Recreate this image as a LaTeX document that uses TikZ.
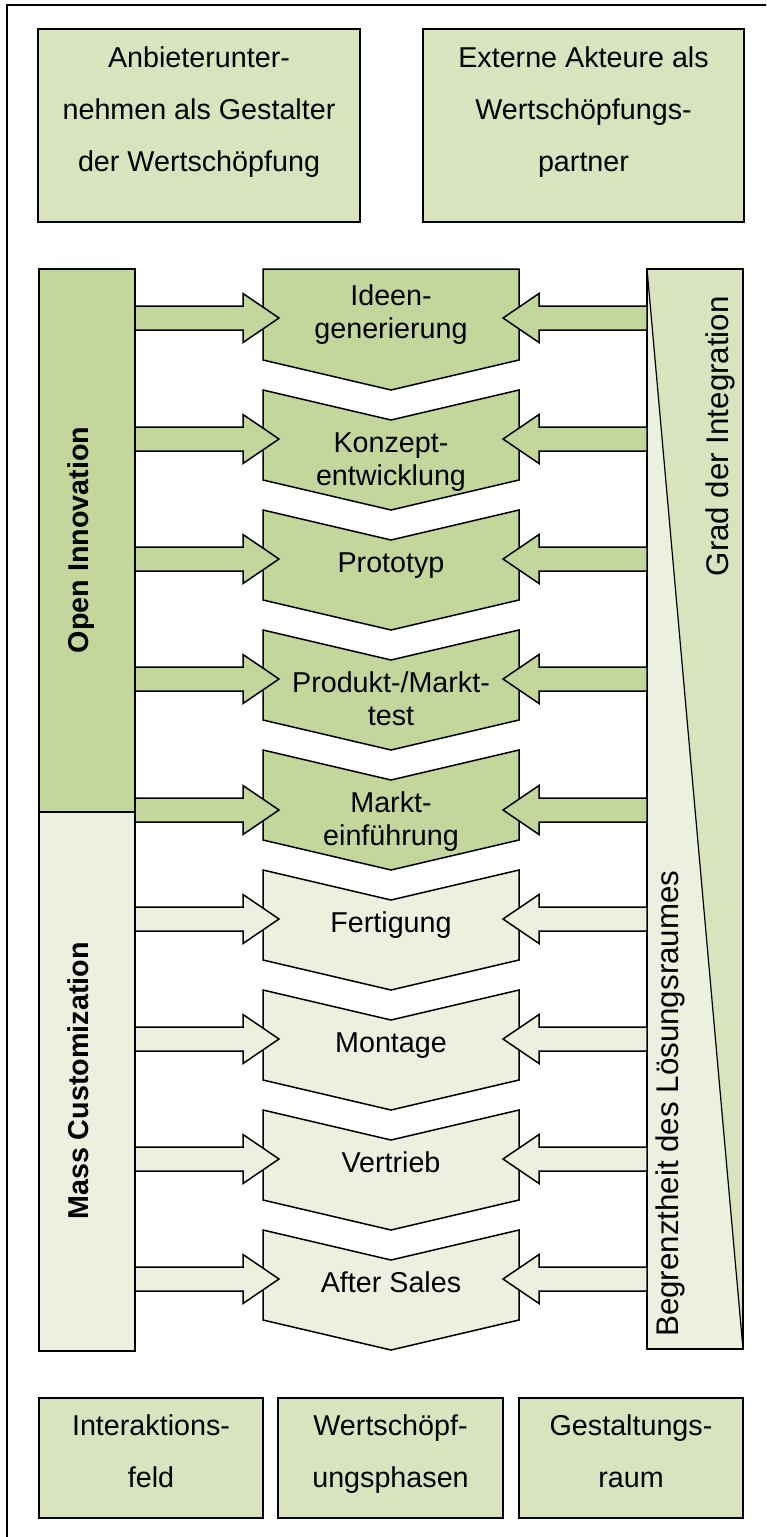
\documentclass[tikz,border=0pt]{standalone}
\usepackage{fontspec}
\setmainfont{Liberation Sans}
\definecolor{oliveDark}{HTML}{C3D69B}
\definecolor{oliveMid}{HTML}{D7E4BD}
\definecolor{oliveLight}{HTML}{EBF1DE}
% invisible rule fixing the height of the first text line
\newcommand\topstrut{\rule{0pt}{21pt}}
\begin{document}
\begin{tikzpicture}[x=1pt,y=-1pt,
  outline/.style={draw=black,line width=1.5pt,line join=miter},
  panel/.style={outline,fill=oliveMid,inner sep=0pt,minimum width=#1},
  phasetext/.style={inner sep=0pt,align=center,anchor=north,font=\fontsize{28.7}{33}\selectfont},
  paneltext/.style={inner sep=0pt,align=center,anchor=north,font=\fontsize{28.7}{52}\selectfont},
  fieldlabel/.style={inner sep=0pt,rotate=90,anchor=base,font=\bfseries\fontsize{28.7}{33}\selectfont},
  spacelabel/.style={inner sep=0pt,rotate=90,font=\fontsize{31.3}{36}\selectfont},
  inarrow/.style={outline,fill=#1},
]
\useasboundingbox (0,0) rectangle (766,1537);
\clip (0,0) rectangle (766,1537);

% outer frame
\draw[line width=2pt] (7,5) rectangle (790,1560);

% top panels
\node[panel=322pt,minimum height=193pt] (provider) at (199,125.5) {};
\node[paneltext] (providerText) at (199,46) {\topstrut Anbieterunter-\\nehmen als Gestalter\\der Wertschöpfung};
\node[panel=321pt,minimum height=193pt] (partners) at (583.5,125.5) {};
\node[paneltext] (partnersText) at (583.5,46) {\topstrut Externe Akteure als\\Wertschöpfungs-\\partner};

% left column: interaction field
\node[outline,fill=oliveDark,inner sep=0pt,minimum width=96pt,minimum height=543pt] (openInno) at (87,540.5) {};
\node[outline,fill=oliveLight,inner sep=0pt,minimum width=96pt,minimum height=539pt] (massCust) at (87,1081.5) {};
\node[fieldlabel] (openInnoText) at (88,540) {Open Innovation};
\node[fieldlabel] (massCustText) at (88,1081) {Mass Customization};

% right column: design space with its diagonal split
\coordinate (spaceNW) at (647,269);
\coordinate (spaceSE) at (743,1349);
\coordinate (spaceSW) at (647,1349);
\fill[oliveMid] (spaceNW) rectangle (spaceSE);
\fill[oliveLight] (spaceNW) -- (spaceSE) -- (spaceSW) -- cycle;
\draw[line width=1.2pt] (spaceNW) -- (spaceSE);
\draw[outline] (spaceNW) rectangle (spaceSE);
\node[spacelabel,anchor=base east] (integration) at (728,296) {Grad der Integration};
\node[spacelabel,anchor=base west] (limits) at (678,1337) {Begrenztheit des Lösungsraumes};

% value creation phases (chevrons)
\draw[outline,fill=oliveDark] (263,269) -- (519,269) -- (519,360) -- (391,390) -- (263,360) -- cycle;
\foreach \k/\t/\col in {2/390/oliveDark,3/510/oliveDark,4/630/oliveDark,5/750/oliveDark,
                        6/870/oliveLight,7/990/oliveLight,8/1110/oliveLight,9/1230/oliveLight}{
  \draw[outline,fill=\col] (263,\t) -- (391,\t+30) -- (519,\t) -- (519,\t+90)
        -- (391,\t+120) -- (263,\t+90) -- cycle;
}

% block arrows from both columns into each phase
\foreach \k/\c/\col in {1/318/oliveDark,2/439/oliveDark,3/559/oliveDark,4/679/oliveDark,5/810/oliveDark,
                        6/919/oliveLight,7/1039/oliveLight,8/1159/oliveLight,9/1279/oliveLight}{
  \coordinate (inL\k) at (135,\c);
  \coordinate (inR\k) at (647,\c);
  \draw[inarrow=\col] (inL\k) ++(0,-12) -- ++(108,0) -- ++(0,-12.5) -- ++(36,24.5)
        -- ++(-36,24.5) -- ++(0,-12.5) -- ++(-108,0) -- cycle;
  \draw[inarrow=\col] (inR\k) ++(0,-12) -- ++(-108,0) -- ++(0,-12.5) -- ++(-36,24.5)
        -- ++(36,24.5) -- ++(0,-12.5) -- ++(108,0) -- cycle;
}

% phase labels
\node[phasetext] (phase1) at (391,284) {\topstrut Ideen-\\generierung};
\node[phasetext] (phase2) at (391,431) {\topstrut Konzept-\\entwicklung};
\node[phasetext] (phase3) at (391,551) {\topstrut Prototyp};
\node[phasetext] (phase4) at (391,671) {\topstrut Produkt-/Markt-\\test};
\node[phasetext] (phase5) at (391,791) {\topstrut Markt-\\einführung};
\node[phasetext] (phase6) at (391,911) {\topstrut Fertigung};
\node[phasetext] (phase7) at (391,1031) {\topstrut Montage};
\node[phasetext] (phase8) at (391,1151) {\topstrut Vertrieb};
\node[phasetext] (phase9) at (391,1271) {\topstrut After Sales};

% bottom legend panels
\node[panel=224pt,minimum height=120pt] (fieldBox) at (151,1458) {};
\node[paneltext] (fieldText) at (151,1414) {\topstrut Interaktions-\\feld};
\node[panel=225pt,minimum height=120pt] (phaseBox) at (390.5,1458) {};
\node[paneltext] (phaseText) at (390.5,1414) {\topstrut Wertschöpf-\\ungsphasen};
\node[panel=224pt,minimum height=120pt] (spaceBox) at (631,1458) {};
\node[paneltext] (spaceText) at (631,1414) {\topstrut Gestaltungs-\\raum};
\end{tikzpicture}
\end{document}
